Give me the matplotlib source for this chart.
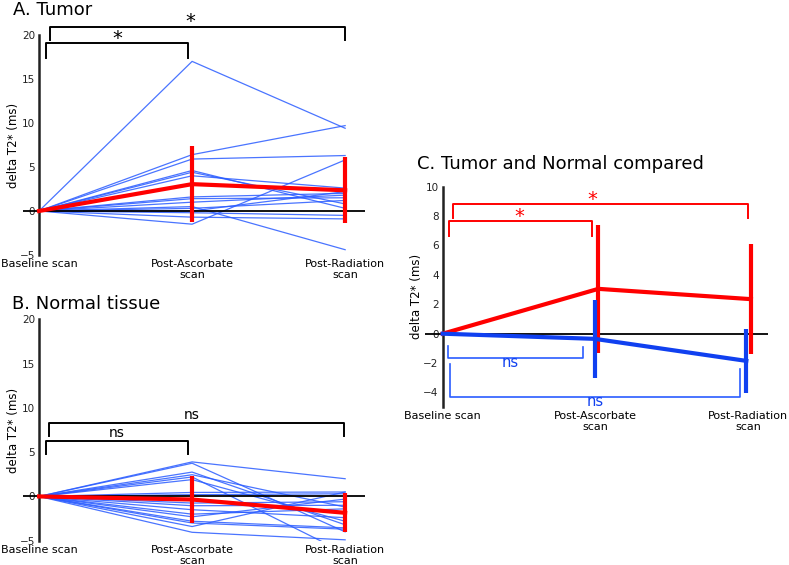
import matplotlib
matplotlib.use("Agg")
import matplotlib.pyplot as plt
import numpy as np

categories = ["Baseline scan", "Post-Ascorbate\nscan", "Post-Radiation\nscan"]

# Panel A: individual tumor trajectories (baseline, post-ascorbate, post-radiation)
tumor_asc = [17.0, 6.4, 5.9, -1.5, 4.6, 4.4, 4.0, 1.6, 1.4, 1.0, 0.5, 0.3, -0.2, -0.7, 0.0]
tumor_rad = [9.4, 9.7, 6.3, 5.8, 0.3, 0.8, 2.6, 2.0, 1.5, 1.8, -4.4, 1.2, -0.5, -0.9, 2.2]
tumor_mean = [0.0, 3.05, 2.35]
tumor_err = [0.0, 4.35, 3.75]

# Panel B: individual normal tissue trajectories
normal_asc = [3.9, 3.75, 2.75, 2.45, 2.2, 1.9, 0.45, 0.2, -0.75, -1.05, -1.5, -2.0, -2.3, -3.0, -3.4, -4.05, -2.8]
normal_rad = [2.0, -4.0, -3.2, -1.2, -6.4, -2.8, 0.5, 0.3, -0.6, -1.0, -2.4, -1.4, -0.3, -3.7, 0.5, -4.9, -3.55]
normal_mean = [0.0, -0.35, -1.85]
normal_err = [0.0, 2.65, 2.2]

RED = "#ff0000"
BLUE_THIN = "#2a5cff"
BLUE_MEAN = "#1040f0"
BLUE_BR = "#2a5cff"

fig = plt.figure(figsize=(7.89, 5.65), dpi=100)

x = np.arange(3)

def style_axes(ax, ylim, yticks, xlim):
    ax.set_xlim(*xlim)
    ax.set_ylim(*ylim)
    for s in ["top", "right", "bottom"]:
        ax.spines[s].set_visible(False)
    ax.spines["left"].set_position(("data", 0))
    ax.spines["left"].set_linewidth(1.8)
    ax.spines["left"].set_color("#222222")
    ax.set_yticks(yticks)
    ax.set_xticks(x)
    ax.set_xticklabels(categories, fontsize=8.0, linespacing=1.08)
    ax.tick_params(axis="x", length=0, pad=3)
    ax.tick_params(axis="y", length=0, pad=3, labelsize=7.5)
    for lab in ax.get_yticklabels():
        lab.set_color("#222222")
    ax.axhline(0, color="black", lw=1.3, zorder=2)
    ax.set_ylabel("delta T2* (ms)", fontsize=8.5, labelpad=0)
    ax.patch.set_alpha(0)

def bracket(ax, x0, x1, ytop, yl, yr, color, lw=1.4):
    ax.plot([x0, x0, x1, x1], [yl, ytop, ytop, yr], color=color, lw=lw, clip_on=False, zorder=3)

# Panel A
axA = fig.add_axes([0.02915, 0.5487, 0.4335, 0.3894])
style_axes(axA, (-5, 20), [-5, 0, 5, 10, 15, 20], (-0.105, 2.13))
for a, r in zip(tumor_asc, tumor_rad):
    axA.plot(x, [0, a, r], color=BLUE_THIN, lw=0.9, alpha=0.85, zorder=1)
axA.plot(x, tumor_mean, color=RED, lw=3, zorder=4)
axA.errorbar(x[1:], tumor_mean[1:], yerr=tumor_err[1:], fmt="none", ecolor=RED, elinewidth=3, capsize=0, zorder=4)
bracket(axA, 0.046, 0.975, 19.05, 17.4, 17.4, "black")
bracket(axA, 0.072, 2.0, 20.9, 19.4, 19.4, "black")
axA.text(0.51, 19.6, "*", ha="center", va="center", fontsize=14, clip_on=False)
axA.text(0.99, 21.5, "*", ha="center", va="center", fontsize=14, clip_on=False)
fig.text(0.0165, 0.9735, "A. Tumor", fontsize=13, ha="left", va="baseline")

# Panel B
axB = fig.add_axes([0.02915, 0.043, 0.4335, 0.3918])
style_axes(axB, (-5, 20), [-5, 0, 5, 10, 15, 20], (-0.105, 2.13))
for a, r in zip(normal_asc, normal_rad):
    axB.plot(x, [0, a, r], color=BLUE_THIN, lw=0.9, alpha=0.85, zorder=1)
axB.plot(x, normal_mean, color=RED, lw=3, zorder=4)
axB.errorbar(x[1:], normal_mean[1:], yerr=normal_err[1:], fmt="none", ecolor=RED, elinewidth=3, capsize=0, zorder=4)
bracket(axB, 0.046, 0.975, 6.3, 4.8, 4.8, "black")
bracket(axB, 0.065, 1.99, 8.27, 6.77, 6.77, "black")
axB.text(0.51, 7.15, "ns", ha="center", va="center", fontsize=10)
axB.text(1.0, 9.2, "ns", ha="center", va="center", fontsize=10)
fig.text(0.0152, 0.453, "B. Normal tissue", fontsize=13, ha="left", va="baseline")

# Panel C
axC = fig.add_axes([0.5387, 0.2793, 0.4343, 0.3903])
style_axes(axC, (-5, 10), [-4, -2, 0, 2, 4, 6, 8, 10], (-0.116, 2.13))
off = 0.02
axC.plot(x + np.array([0, off, off]), tumor_mean, color=RED, lw=3, zorder=4)
axC.errorbar(x[1:] + off, tumor_mean[1:], yerr=tumor_err[1:], fmt="none", ecolor=RED, elinewidth=3, capsize=0, zorder=4)
axC.plot(x + np.array([0, -0.005, -0.01]), normal_mean, color=BLUE_MEAN, lw=3, zorder=5)
axC.errorbar(x[1:] + np.array([-0.005, -0.01]), normal_mean[1:], yerr=normal_err[1:], fmt="none", ecolor=BLUE_MEAN, elinewidth=3, capsize=0, zorder=5)
bracket(axC, 0.043, 0.98, 7.67, 6.65, 6.65, RED)
bracket(axC, 0.069, 2.0, 8.8, 7.85, 7.85, RED)
axC.text(0.5, 7.95, "*", ha="center", va="center", fontsize=14, color=RED)
axC.text(0.98, 9.15, "*", ha="center", va="center", fontsize=14, color=RED)
bracket(axC, 0.033, 0.92, -1.63, -0.84, -0.93, BLUE_BR, lw=1.2)
bracket(axC, 0.048, 1.95, -4.28, -2.08, -2.4, BLUE_BR, lw=1.2)
axC.text(0.44, -1.95, "ns", ha="center", va="center", fontsize=10.5, color=BLUE_MEAN)
axC.text(1.0, -4.6, "ns", ha="center", va="center", fontsize=10.5, color=BLUE_MEAN, clip_on=False)
fig.text(0.528, 0.7004, "C. Tumor and Normal compared", fontsize=13, ha="left", va="baseline")

fig.savefig("out.png", dpi=100)
